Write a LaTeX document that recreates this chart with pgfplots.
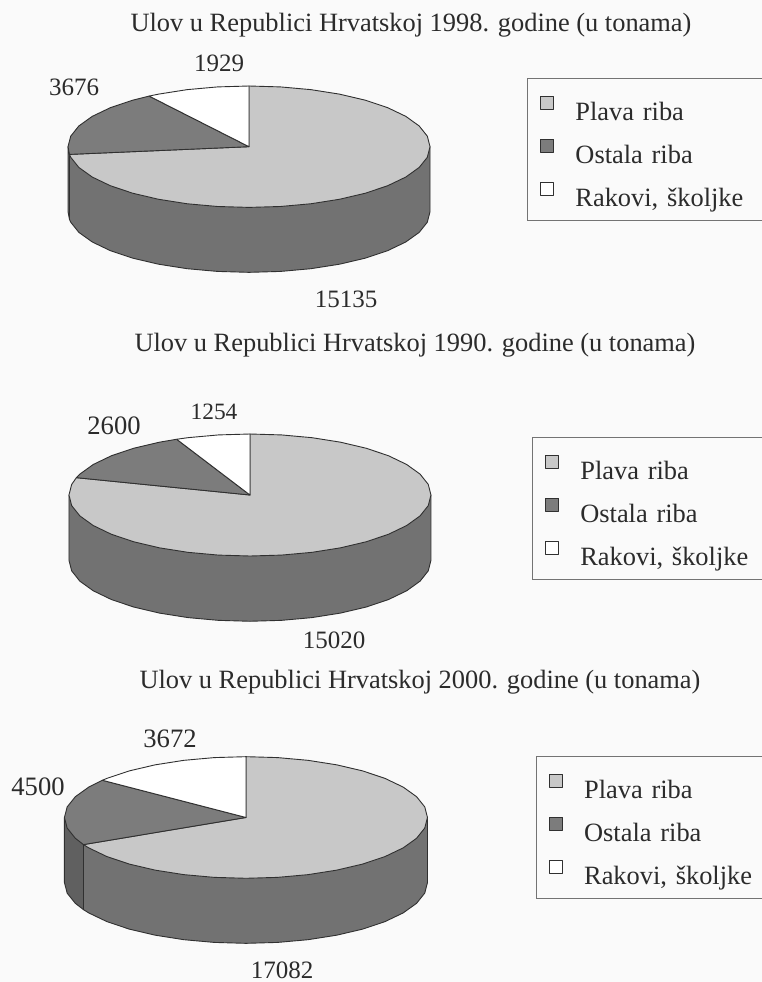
\documentclass[border=0pt]{standalone}
\usepackage{pgfplots}
\usepackage{fontspec}
\setmainfont{Liberation Serif}
\pgfplotsset{compat=1.18}
\definecolor{pagebg}{HTML}{FAFAFA}
\definecolor{lighttop}{HTML}{C8C8C8}
\definecolor{darktop}{HTML}{7C7C7C}
\definecolor{sidecol}{HTML}{727272}
\definecolor{sidedark}{HTML}{606060}
\definecolor{edge}{HTML}{303030}
\definecolor{ink}{HTML}{2B2B2B}
\newcommand{\ff}{\fontsize{25}{29}\selectfont}
\newcommand{\fs}{\fontsize{23.4}{27}\selectfont}
\newcommand{\fb}{\fontsize{26.6}{30}\selectfont}
\newcommand{\fl}{\fontsize{26.4}{30}\selectfont}
\pgfplotsset{
  pie/.style={
    scale only axis, width=762pt, hide axis, clip=false,
    legend cell align=left,
    legend image code/.code={\draw[##1,line width=1.1pt] (0pt,-3pt) rectangle (13pt,10pt);},
    legend style={draw=black!55, fill=none, line width=.7pt, anchor=north west,
      font=\fl, text=ink, inner xsep=13pt, inner ysep=12.5pt, row sep=12pt,
      /tikz/column 1/.style={column sep=21pt},
      nodes={text width=200pt, inner sep=0pt, text depth=1pt, text height=30pt}},
  },
  wedge/.style={fill=#1, draw=edge, line width=.9pt, no marks, line join=round},
}
\begin{document}
\begin{tikzpicture}[x=1pt,y=1pt]
\path[use as bounding box] (0,0) rectangle (762,-982);
\clip (0,0) rectangle (762,-982);
\fill[pagebg] (0,0) rectangle (762,-982);

% 1998
\begin{axis}[pie, at={(0pt,0pt)}, anchor=north west, height=330pt,
  xmin=-1.3757, xmax=2.834, ymin=-3.02, ymax=2.417,
  legend style={at={(0.6916,0.7636)}}]
\addplot[wedge=sidedark, forget plot] coordinates {(-1,0) (-1,-1.07) (-.992,-1.197) (-.992,-.127)} --cycle;
\addplot[wedge=sidecol, forget plot] coordinates {(-.992,-.127) (1,0) (1,-1.07) (.985,-1.244) (.940,-1.412) (.866,-1.57) (.766,-1.713) (.643,-1.836) (.5,-1.936) (.342,-2.01) (.174,-2.055) (0,-2.07) (-.174,-2.055) (-.342,-2.01) (-.5,-1.936) (-.643,-1.836) (-.766,-1.713) (-.866,-1.57) (-.940,-1.412) (-.985,-1.244) (-.992,-1.197)} --cycle;
\addplot[wedge=lighttop] coordinates {(-.992,-.127) (-.985,-.174) (-.940,-.342) (-.866,-.5) (-.766,-.643) (-.643,-.766) (-.5,-.866) (-.342,-.940) (-.174,-.985) (0,-1) (.174,-.985) (.342,-.940) (.5,-.866) (.643,-.766) (.766,-.643) (.866,-.5) (.940,-.342) (.985,-.174) (1,0) (.985,.174) (.940,.342) (.866,.5) (.766,.643) (.643,.766) (.5,.866) (.342,.940) (.174,.985) (0,1) (0,0)} --cycle;
\addplot[wedge=darktop] coordinates {(0,0) (-.552,.834) (-.643,.766) (-.766,.643) (-.866,.5) (-.940,.342) (-.985,.174) (-1,0) (-.992,-.127)} --cycle;
\addplot[wedge=white] coordinates {(0,0) (0,1) (-.174,.985) (-.342,.940) (-.5,.866) (-.552,.834)} --cycle;
\legend{Plava riba, Ostala riba, {Rakovi, školjke}}
\end{axis}

% 1990
\begin{axis}[pie, at={(0pt,-330pt)}, anchor=north west, height=330pt,
  xmin=-1.381, xmax=2.829, ymin=-2.705, ymax=2.705,
  legend style={at={(0.698,0.676)}}]
\addplot[wedge=sidecol, forget plot] coordinates {(-1,0) (1,0) (1,-1.07) (.985,-1.244) (.940,-1.412) (.866,-1.57) (.766,-1.713) (.643,-1.836) (.5,-1.936) (.342,-2.01) (.174,-2.055) (0,-2.07) (-.174,-2.055) (-.342,-2.01) (-.5,-1.936) (-.643,-1.836) (-.766,-1.713) (-.866,-1.57) (-.940,-1.412) (-.985,-1.244) (-1,-1.07)} --cycle;
\addplot[wedge=lighttop] coordinates {(-.959,.284) (-.985,.174) (-1,0) (-.985,-.174) (-.940,-.342) (-.866,-.5) (-.766,-.643) (-.643,-.766) (-.5,-.866) (-.342,-.940) (-.174,-.985) (0,-1) (.174,-.985) (.342,-.940) (.5,-.866) (.643,-.766) (.766,-.643) (.866,-.5) (.940,-.342) (.985,-.174) (1,0) (.985,.174) (.940,.342) (.866,.5) (.766,.643) (.643,.766) (.5,.866) (.342,.940) (.174,.985) (0,1) (0,0)} --cycle;
\addplot[wedge=darktop] coordinates {(0,0) (-.405,.914) (-.5,.866) (-.643,.766) (-.766,.643) (-.866,.5) (-.940,.342) (-.959,.284)} --cycle;
\addplot[wedge=white] coordinates {(0,0) (0,1) (-.174,.985) (-.342,.940) (-.405,.914)} --cycle;
\legend{Plava riba, Ostala riba, {Rakovi, školjke}}
\end{axis}

% 2000
\begin{axis}[pie, at={(0pt,-660pt)}, anchor=north west, height=322pt,
  xmin=-1.355, xmax=2.843, ymin=-2.706, ymax=2.590,
  legend style={at={(0.703,0.702)}}]
\addplot[wedge=sidedark, forget plot] coordinates {(-1,0) (-1,-1.07) (-.985,-1.244) (-.940,-1.412) (-.895,-1.516) (-.895,-.446)} --cycle;
\addplot[wedge=sidecol, forget plot] coordinates {(-.895,-.446) (1,0) (1,-1.07) (.985,-1.244) (.940,-1.412) (.866,-1.57) (.766,-1.713) (.643,-1.836) (.5,-1.936) (.342,-2.01) (.174,-2.055) (0,-2.07) (-.174,-2.055) (-.342,-2.01) (-.5,-1.936) (-.643,-1.836) (-.766,-1.713) (-.866,-1.57) (-.895,-1.516)} --cycle;
\addplot[wedge=lighttop] coordinates {(-.895,-.446) (-.866,-.5) (-.766,-.643) (-.643,-.766) (-.5,-.866) (-.342,-.940) (-.174,-.985) (0,-1) (.174,-.985) (.342,-.940) (.5,-.866) (.643,-.766) (.766,-.643) (.866,-.5) (.940,-.342) (.985,-.174) (1,0) (.985,.174) (.940,.342) (.866,.5) (.766,.643) (.643,.766) (.5,.866) (.342,.940) (.174,.985) (0,1) (0,0)} --cycle;
\addplot[wedge=darktop] coordinates {(0,0) (-.791,.612) (-.866,.5) (-.940,.342) (-.985,.174) (-1,0) (-.985,-.174) (-.940,-.342) (-.895,-.446)} --cycle;
\addplot[wedge=white] coordinates {(0,0) (0,1) (-.174,.985) (-.342,.940) (-.5,.866) (-.643,.766) (-.766,.643) (-.791,.612)} --cycle;
\legend{Plava riba, Ostala riba, {Rakovi, školjke}}
\end{axis}

% titles and value labels
\begin{scope}[every node/.style={font=\ff, inner sep=0pt, text=ink}]
\node[font=\fl] at (411,-25) {Ulov u Republici Hrvatskoj 1998. godine (u tonama)};
\node at (219,-63) {1929};
\node at (74,-87) {3676};
\node at (346,-299) {15135};
\node[font=\fl] at (415,-345) {Ulov u Republici Hrvatskoj 1990. godine (u tonama)};
\node[font=\fs] at (214,-412) {1254};
\node[font=\fb] at (114,-426) {2600};
\node at (334,-640) {15020};
\node[font=\fl] at (420,-682) {Ulov u Republici Hrvatskoj 2000. godine (u tonama)};
\node[font=\fb] at (170,-739) {3672};
\node[font=\fb] at (38,-787) {4500};
\node at (282,-970) {17082};
\end{scope}
\end{tikzpicture}
\end{document}
